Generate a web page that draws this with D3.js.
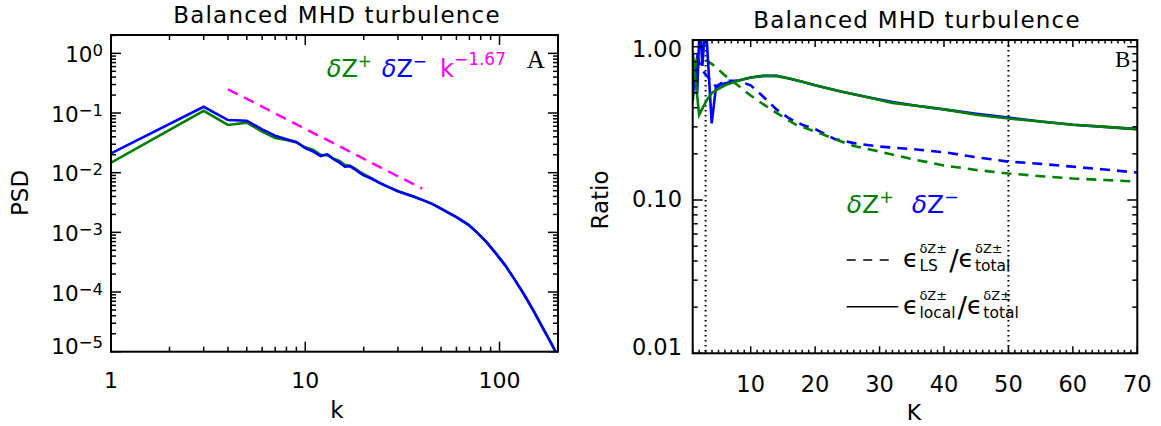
<!DOCTYPE html>
<html>
<head>
<meta charset="utf-8">
<script src="https://cdn.jsdelivr.net/npm/d3@7"></script>
<style>
body { margin: 0; background: #fff; }
text { font-family: "DejaVu Sans", sans-serif; fill: #000; }
</style>
</head>
<body>
<script>
"use strict";

///// data

// panel A : power spectra vs k
var kA      = [1, 3, 4, 5, 6, 7, 8, 9, 10, 11, 12, 13, 14, 15, 16, 17, 18, 19, 20, 22, 24, 26, 28, 30, 33, 36, 40, 45, 50, 55, 60, 69, 77, 86, 96, 107, 120, 134, 150, 167, 182, 196];
var psdPlus = [0.0147, 0.109, 0.063, 0.0688, 0.049, 0.038, 0.0354, 0.0322, 0.0266, 0.024, 0.020, 0.0197, 0.0172, 0.0157, 0.0134, 0.0131, 0.0118, 0.0104, 0.0095, 0.0080, 0.0068, 0.0060, 0.0054, 0.0049, 0.0044, 0.0040, 0.0035, 0.0030, 0.0025, 0.0021, 0.0018, 0.00135, 0.00098, 0.00068, 0.00044, 0.00028, 0.00016, 0.000090, 0.000048, 0.000025, 0.000015, 0.0000095];
var psdMinus = [0.0211, 0.127, 0.0762, 0.0743, 0.053, 0.0417, 0.0363, 0.0327, 0.0257, 0.0225, 0.019, 0.0203, 0.0168, 0.0147, 0.0126, 0.0129, 0.0114, 0.0100, 0.0090, 0.0079, 0.0068, 0.0060, 0.0054, 0.0049, 0.0044, 0.0040, 0.0035, 0.0030, 0.0025, 0.0021, 0.0018, 0.00135, 0.00098, 0.00068, 0.00044, 0.00028, 0.00016, 0.000090, 0.000048, 0.000025, 0.000015, 0.0000095];
var slopeK   = [4, 40];
var slopePsd = [0.25, 0.0054];

// panel B : ratios vs K
var kLocPlus   = [1, 2, 3.2, 4, 5, 6, 8, 10, 12, 14, 16, 18, 20, 24, 28, 32, 36, 40, 45, 50, 55, 60, 65, 70];
var locPlus    = [0.93, 0.36, 0.45, 0.50, 0.53, 0.56, 0.60, 0.63, 0.645, 0.645, 0.62, 0.59, 0.56, 0.51, 0.47, 0.43, 0.41, 0.39, 0.36, 0.34, 0.325, 0.31, 0.30, 0.29];
var kLocMinus  = [1, 1.35, 1.7, 2.1, 2.5, 3.0, 3.95, 4.6, 5.5, 7, 8, 10, 12, 14, 16, 18, 20, 24, 28, 32, 36, 40, 45, 50, 55, 60, 65, 70];
var locMinus   = [0.46, 0.72, 0.50, 1.5, 0.75, 1.5, 0.316, 0.54, 0.57, 0.59, 0.60, 0.63, 0.645, 0.645, 0.62, 0.59, 0.56, 0.51, 0.47, 0.435, 0.41, 0.39, 0.365, 0.345, 0.325, 0.31, 0.30, 0.29];
var kLsPlus    = [1, 1.6, 3, 4, 5, 6, 8, 10, 12, 14, 17, 20, 23, 26, 30, 35, 40, 45, 50, 55, 60, 65, 70];
var lsPlus     = [0.44, 0.82, 0.82, 0.77, 0.71, 0.65, 0.56, 0.48, 0.42, 0.37, 0.31, 0.28, 0.25, 0.225, 0.207, 0.185, 0.168, 0.157, 0.149, 0.143, 0.138, 0.135, 0.132];
var kLsMinus   = [1, 1.7, 2.5, 4.6, 6, 8, 10, 12, 14, 16, 18, 20, 23, 26, 30, 35, 40, 45, 50, 55, 60, 65, 70];
var lsMinus    = [0.5, 0.85, 0.70, 0.55, 0.60, 0.60, 0.56, 0.47, 0.39, 0.34, 0.31, 0.29, 0.25, 0.235, 0.223, 0.215, 0.205, 0.19, 0.178, 0.172, 0.165, 0.158, 0.151];
var markK = [3, 50];

var xTicksA = [1, 10, 100];
var yTicksA = [0, -1, -2, -3, -4, -5];
var xTicksB = [10, 20, 30, 40, 50, 60, 70];
var yTicksB = ["1.00", "0.10", "0.01"];

var green = "#008000", blue = "#0000ff", magenta = "#ff00ff";

var svg = d3.select("body").append("svg")
    .attr("width", 1161)
    .attr("height", 426);
svg.append("rect").attr("width", 1161).attr("height", 426).attr("fill", "#fff");

function zip(a, b) { return a.map((d, i) => [d, b[i]]); }

// "δZ" with a super script, one coloured piece of a legend
function dz(x, y, size, col, sup) {
  var t = svg.append("text").attr("x", x).attr("y", y).attr("font-size", size).attr("fill", col);
  t.append("tspan").attr("font-style", "italic").style("fill", col).text("\u03b4");
  t.append("tspan").style("fill", col).text("Z");
  t.append("tspan").attr("dy", -size * 0.42).attr("font-size", size * 0.7).style("fill", col).text(sup);
  return t;
}

////////// panel A

var A = { l: 111, r: 558, t: 35, b: 351.7 };
var xA = d3.scaleLog().domain([1, 200]).range([A.l, A.r]);
var yA = d3.scaleLog().domain([1e-5, 2.03]).range([A.b, A.t]);

svg.append("clipPath").attr("id", "clipA").append("rect")
    .attr("x", A.l).attr("y", A.t).attr("width", A.r - A.l).attr("height", A.b - A.t);

var lineA = d3.line().x(d => xA(d[0])).y(d => yA(d[1]));

var gA = svg.append("g").attr("clip-path", "url(#clipA)");
gA.append("path").attr("d", lineA(zip(slopeK, slopePsd)))
    .attr("fill", "none").attr("stroke", magenta).attr("stroke-width", 2.5)
    .attr("stroke-dasharray", "11,7");
gA.append("path").attr("d", lineA(zip(kA, psdPlus)))
    .attr("fill", "none").attr("stroke", green).attr("stroke-width", 2.6);
gA.append("path").attr("d", lineA(zip(kA, psdMinus)))
    .attr("fill", "none").attr("stroke", blue).attr("stroke-width", 2.6);

// ticks
var tA = svg.append("g").attr("stroke", "#000").attr("stroke-width", 1.5);
var minorX = [];
[1, 10, 100].forEach(p => d3.range(2, 10).forEach(m => { if (p * m < 200) minorX.push(p * m); }));
xTicksA.forEach(v => {
  tA.append("line").attr("x1", xA(v)).attr("x2", xA(v)).attr("y1", A.b).attr("y2", A.b - 10);
  tA.append("line").attr("x1", xA(v)).attr("x2", xA(v)).attr("y1", A.t).attr("y2", A.t + 10);
});
minorX.forEach(v => {
  tA.append("line").attr("x1", xA(v)).attr("x2", xA(v)).attr("y1", A.b).attr("y2", A.b - 5);
  tA.append("line").attr("x1", xA(v)).attr("x2", xA(v)).attr("y1", A.t).attr("y2", A.t + 5);
});
yTicksA.forEach(e => {
  var y = yA(Math.pow(10, e));
  tA.append("line").attr("x1", A.l).attr("x2", A.l + 10).attr("y1", y).attr("y2", y);
  tA.append("line").attr("x1", A.r).attr("x2", A.r - 10).attr("y1", y).attr("y2", y);
  d3.range(2, 10).forEach(m => {
    var v = m * Math.pow(10, e);
    if (v > 2.03) return;
    var yy = yA(v);
    tA.append("line").attr("x1", A.l).attr("x2", A.l + 5).attr("y1", yy).attr("y2", yy);
    tA.append("line").attr("x1", A.r).attr("x2", A.r - 5).attr("y1", yy).attr("y2", yy);
  });
});
svg.append("rect").attr("x", A.l).attr("y", A.t).attr("width", A.r - A.l).attr("height", A.b - A.t)
    .attr("fill", "none").attr("stroke", "#000").attr("stroke-width", 2);

// labels
xTicksA.forEach(v => {
  svg.append("text").attr("x", xA(v)).attr("y", 387.5).attr("text-anchor", "middle")
    .attr("font-size", 22).text(v);
});
yTicksA.forEach(e => {
  var y = Math.min(yA(Math.pow(10, e)) + 8.5, A.b + 2);
  var t = svg.append("text").attr("x", 103).attr("y", y).attr("text-anchor", "end").attr("font-size", 21.5);
  t.append("tspan").text("10");
  t.append("tspan").attr("dy", -6).attr("font-size", 16.5).text(e === 0 ? "0" : "\u2212" + (-e));
});
svg.append("text").attr("x", 337).attr("y", 23.3).attr("text-anchor", "middle")
    .attr("font-size", 23).attr("letter-spacing", 1.2).text("Balanced MHD turbulence");
svg.append("text").attr("x", 337).attr("y", 418).attr("text-anchor", "middle")
    .attr("font-size", 23).text("k");
svg.append("text").attr("transform", "translate(28,193) rotate(-90)").attr("text-anchor", "middle")
    .attr("font-size", 23).text("PSD");

dz(326.7, 76.7, 24, green, "+");
dz(381.7, 76.7, 24, blue, "\u2212");
var kl = svg.append("text").attr("x", 440).attr("y", 76.7).attr("font-size", 24).style("fill", magenta);
kl.append("tspan").style("fill", magenta).text("k");
kl.append("tspan").attr("dy", -12).attr("font-size", 17).style("fill", magenta).text("\u22121.67");
svg.append("text").attr("x", 526.7).attr("y", 68.3)
    .style("font-family", "'Liberation Serif', serif").attr("font-size", 25).text("A");

////////// panel B

var B = { l: 692.7, r: 1137.3, t: 40, b: 353.3 };
var xB = d3.scaleLinear().domain([1, 70]).range([B.l, B.r]);
var yB = d3.scaleLog().domain([0.01, 1.106]).range([B.b, B.t]);

svg.append("clipPath").attr("id", "clipB").append("rect")
    .attr("x", B.l).attr("y", B.t).attr("width", B.r - B.l).attr("height", B.b - B.t);

var lineB = d3.line().x(d => xB(d[0])).y(d => yB(d[1]));
var gB = svg.append("g").attr("clip-path", "url(#clipB)");

markK.forEach(v => {
  gB.append("line").attr("x1", xB(v)).attr("x2", xB(v)).attr("y1", B.t).attr("y2", B.b)
    .attr("stroke", "#000").attr("stroke-width", 2).attr("stroke-dasharray", "1.5,3.5");
});
gB.append("path").attr("d", lineB(zip(kLsMinus, lsMinus)))
    .attr("fill", "none").attr("stroke", blue).attr("stroke-width", 2.6).attr("stroke-dasharray", "10,7");
gB.append("path").attr("d", lineB(zip(kLsPlus, lsPlus)))
    .attr("fill", "none").attr("stroke", green).attr("stroke-width", 2.6).attr("stroke-dasharray", "10,7");
gB.append("path").attr("d", lineB(zip(kLocMinus, locMinus)))
    .attr("fill", "none").attr("stroke", blue).attr("stroke-width", 2.6);
gB.append("path").attr("d", lineB(zip(kLocPlus, locPlus)))
    .attr("fill", "none").attr("stroke", green).attr("stroke-width", 2.6);

var tB = svg.append("g").attr("stroke", "#000").attr("stroke-width", 1.5);
d3.range(1, 71).forEach(v => {
  var big = v % 10 === 0;
  var len = big ? 7 : 3.5;
  tB.append("line").attr("x1", xB(v)).attr("x2", xB(v)).attr("y1", B.b).attr("y2", B.b - len);
  tB.append("line").attr("x1", xB(v)).attr("x2", xB(v)).attr("y1", B.t).attr("y2", B.t + len);
});
yTicksB.forEach(s => {
  var base = +s;
  var y = yB(base);
  tB.append("line").attr("x1", B.l).attr("x2", B.l + 10).attr("y1", y).attr("y2", y);
  tB.append("line").attr("x1", B.r).attr("x2", B.r - 10).attr("y1", y).attr("y2", y);
  if (base >= 1) return;
  d3.range(2, 10).forEach(m => {
    var yy = yB(m * base);
    tB.append("line").attr("x1", B.l).attr("x2", B.l + 5).attr("y1", yy).attr("y2", yy);
    tB.append("line").attr("x1", B.r).attr("x2", B.r - 5).attr("y1", yy).attr("y2", yy);
  });
});
svg.append("rect").attr("x", B.l).attr("y", B.t).attr("width", B.r - B.l).attr("height", B.b - B.t)
    .attr("fill", "none").attr("stroke", "#000").attr("stroke-width", 2);

xTicksB.forEach(v => {
  svg.append("text").attr("x", xB(v)).attr("y", 391.7).attr("text-anchor", "middle")
    .attr("font-size", 22.5).text(v);
});
yTicksB.forEach(s => {
  var y = Math.max(Math.min(yB(+s) + 7, B.b + 2), B.t + 17);
  svg.append("text").attr("x", 682).attr("y", y).attr("text-anchor", "end")
    .attr("font-size", 22.5).text(s);
});
svg.append("text").attr("x", 917).attr("y", 28.3).attr("text-anchor", "middle")
    .attr("font-size", 23).attr("letter-spacing", 1.2).text("Balanced MHD turbulence");
svg.append("text").attr("x", 914).attr("y", 420).attr("text-anchor", "middle")
    .attr("font-size", 22).text("K");
svg.append("text").attr("transform", "translate(608,200) rotate(-90)").attr("text-anchor", "middle")
    .attr("font-size", 23).text("Ratio");
svg.append("text").attr("x", 1115).attr("y", 66.7)
    .style("font-family", "'Liberation Serif', serif").attr("font-size", 23).text("B");

dz(846.7, 213.3, 25, green, "+");
dz(911.7, 213.3, 25, blue, "\u2212");

// epsilon ratio legend
function epsTerm(x, base, sub) {
  var e = svg.append("text").attr("x", x).attr("y", base).attr("font-size", 25).text("\u03f5");
  var w = e.node().getComputedTextLength();
  var sp = svg.append("text").attr("x", x + w + 1).attr("y", base - 14).attr("font-size", 13).text("\u03b4Z\u00b1");
  var sb = svg.append("text").attr("x", x + w + 1).attr("y", base + 4).attr("font-size", 15.5).text(sub);
  return x + w + 1 + Math.max(sp.node().getComputedTextLength(), sb.node().getComputedTextLength());
}
function ratioLegend(y, sub, dash) {
  svg.append("line").attr("x1", 846.7).attr("x2", dash ? 893.3 : 898.3).attr("y1", y).attr("y2", y)
    .attr("stroke", "#000").attr("stroke-width", 1.5).attr("stroke-dasharray", dash ? "9,7.5" : null);
  var base = y + 7;
  var x = epsTerm(903, base, sub);
  var sl = svg.append("text").attr("x", x + 2).attr("y", base + 3).attr("font-size", 28).text("/");
  x = x + 2 + sl.node().getComputedTextLength();
  epsTerm(x, base, "total");
}
ratioLegend(260, "LS", true);
ratioLegend(306.7, "local", false);
</script>
</body>
</html>
